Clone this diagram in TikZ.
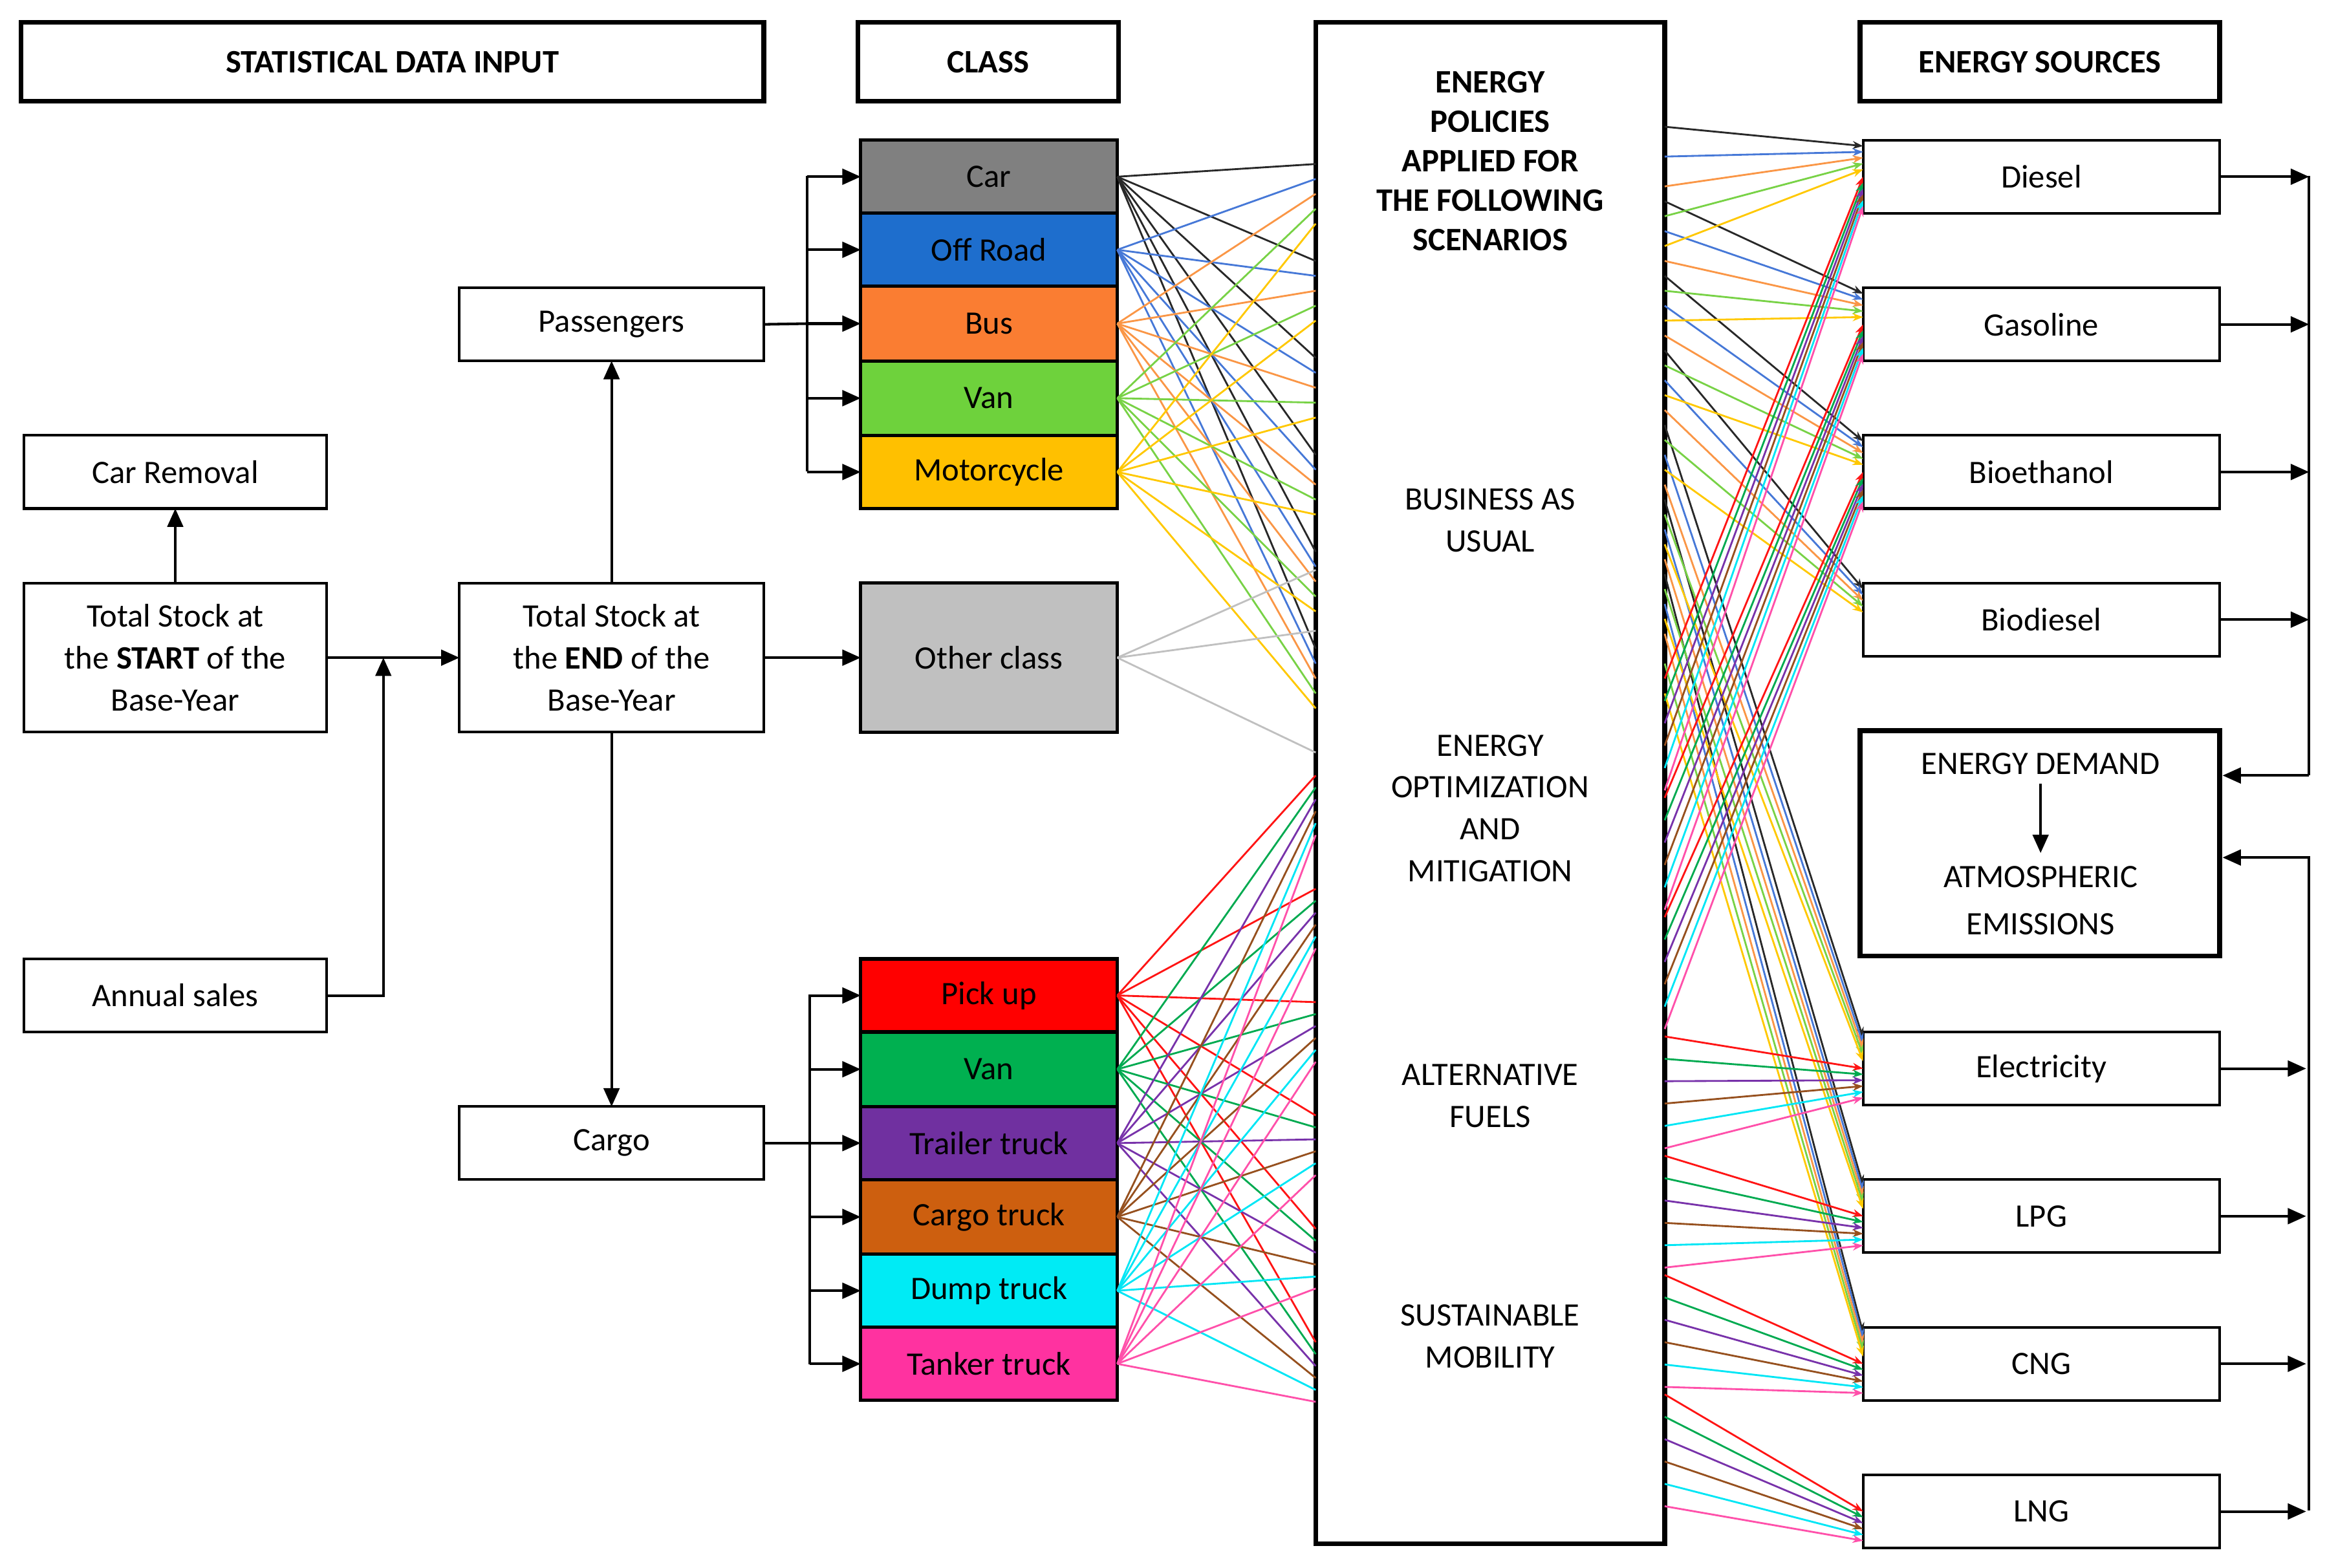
\documentclass[tikz,border=0pt]{standalone}
\usepackage{fontspec}
\setmainfont{Carlito}
\usetikzlibrary{calc,arrows.meta}
\definecolor{pc0}{RGB}{40,40,40}\definecolor{pc1}{RGB}{70,120,215}\definecolor{pc2}{RGB}{250,150,70}
\definecolor{pc3}{RGB}{120,210,70}\definecolor{pc4}{RGB}{255,200,0}
\definecolor{cc0}{RGB}{255,20,20}\definecolor{cc1}{RGB}{0,170,80}\definecolor{cc2}{RGB}{120,50,170}
\definecolor{cc3}{RGB}{150,80,30}\definecolor{cc4}{RGB}{0,230,245}\definecolor{cc5}{RGB}{255,80,170}
\newcommand{\bx}[7]{\node[#6,minimum width={#4*0.02cm-#2*0.02cm},minimum height={#5*0.02cm-#3*0.02cm}] (#1) at ({(#2+#4)/2},{(#3+#5)/2}) {#7};}
\begin{document}
\begin{tikzpicture}[x=0.02cm,y=-0.02cm,font=\fontsize{12.5}{15}\selectfont,
 b/.style={draw,line width=1pt,inner sep=0,outer sep=0,align=center,fill=white},
 tb/.style={b,line width=1.8pt,font=\fontsize{12.5}{15}\selectfont\bfseries},
 cl/.style={b,line width=1.3pt},
 a/.style={line width=1pt,-{Triangle[length=7pt,width=6pt]}},
 ln/.style={line width=0.7pt},
 sa/.style={line width=0.7pt,-{Stealth[length=4pt,width=3pt]}}]
\useasboundingbox (0,0) rectangle (1560,1051);
% headers
\bx{sdi}{14}{15}{512}{68}{tb}{STATISTICAL DATA INPUT}
\bx{cls}{575}{15}{750}{68}{tb}{CLASS}
\bx{esrc}{1247}{15}{1488}{68}{tb}{ENERGY SOURCES}
\bx{pol}{882}{15}{1116}{1035}{b,line width=1.8pt}{}
\node[font=\fontsize{12.5}{16}\selectfont\bfseries,align=center] (t1) at (999,108) {ENERGY\\[-1pt]POLICIES\\[-1pt]APPLIED FOR\\[-1pt]THE FOLLOWING\\[-1pt]SCENARIOS};
\node[align=center] (t2) at (999,349) {BUSINESS AS\\[1pt]USUAL};
\node[align=center] (t3) at (999,542) {ENERGY\\[1pt]OPTIMIZATION\\[1pt]AND\\[1pt]MITIGATION};
\node[align=center] (t4) at (999,735) {ALTERNATIVE\\[1pt]FUELS};
\node[align=center] (t5) at (999,896) {SUSTAINABLE\\[1pt]MOBILITY};
% left
\bx{rem}{16}{292}{219}{341}{b}{Car Removal}
\bx{start}{16}{391}{219}{491}{b}{Total Stock at\\[1pt]the \textbf{START} of the\\[1pt]Base-Year}
\bx{sales}{16}{643}{219}{692}{b}{Annual sales}
\bx{pas}{308}{193}{512}{242}{b}{Passengers}
\bx{end}{308}{391}{512}{491}{b}{Total Stock at\\[1pt]the \textbf{END} of the\\[1pt]Base-Year}
\bx{cargo}{308}{742}{512}{791}{b}{Cargo}
% classes
\definecolor{k1}{RGB}{128,128,128}\definecolor{k2}{RGB}{30,110,205}\definecolor{k3}{RGB}{250,125,50}
\definecolor{k4}{RGB}{110,210,60}\definecolor{k5}{RGB}{255,192,0}\definecolor{k6}{RGB}{192,192,192}
\definecolor{m1}{RGB}{255,0,0}\definecolor{m2}{RGB}{0,176,80}\definecolor{m3}{RGB}{112,48,160}
\definecolor{m4}{RGB}{205,95,15}\definecolor{m5}{RGB}{0,235,245}\definecolor{m6}{RGB}{255,50,160}
\bx{car}{577}{94}{749}{143}{cl,fill=k1}{Car}
\bx{off}{577}{143}{749}{192}{cl,fill=k2}{Off Road}
\bx{bus}{577}{192}{749}{242}{cl,fill=k3}{Bus}
\bx{van}{577}{242}{749}{292}{cl,fill=k4}{Van}
\bx{moto}{577}{292}{749}{341}{cl,fill=k5}{Motorcycle}
\bx{oth}{577}{391}{749}{491}{cl,fill=k6}{Other class}
\bx{pick}{577}{643}{749}{692}{cl,fill=m1}{Pick up}
\bx{cvan}{577}{692}{749}{742}{cl,fill=m2}{Van}
\bx{trl}{577}{742}{749}{791}{cl,fill=m3}{Trailer truck}
\bx{ctr}{577}{791}{749}{841}{cl,fill=m4}{Cargo truck}
\bx{dmp}{577}{841}{749}{890}{cl,fill=m5}{Dump truck}
\bx{tnk}{577}{890}{749}{939}{cl,fill=m6}{Tanker truck}
% sources
\bx{dsl}{1249}{94}{1488}{143}{b}{Diesel}
\bx{gas}{1249}{193}{1488}{242}{b}{Gasoline}
\bx{bioe}{1249}{292}{1488}{341}{b}{Bioethanol}
\bx{biod}{1249}{391}{1488}{440}{b}{Biodiesel}
\bx{elec}{1249}{692}{1488}{741}{b}{Electricity}
\bx{lpg}{1249}{791}{1488}{840}{b}{LPG}
\bx{cng}{1249}{890}{1488}{939}{b}{CNG}
\bx{lng}{1249}{989}{1488}{1038}{b}{LNG}
\bx{dem}{1247}{490}{1488}{641}{b,line width=1.8pt}{}
\node (d1) at (1368,512) {ENERGY DEMAND};
\node[align=center] (d2) at (1368,604) {ATMOSPHERIC\\[3pt]EMISSIONS};
\draw[a] (d1.south) -- (1368,572);
% colored fans left
\foreach \k/\n/\c in {0/car/pc0,1/off/pc1,2/bus/pc2,3/van/pc3,4/moto/pc4}
 \foreach \j in {0,...,5}
  \draw[ln,\c] (\n.east) -- ($(pol.north west)!{(95+10*\k+65*\j)/1020}!(pol.south west)$);
\foreach \t in {0.36,0.40,0.48}
 \draw[ln,k6] (oth.east) -- ($(pol.north west)!\t!(pol.south west)$);
\foreach \k/\n/\c in {0/pick/cc0,1/cvan/cc1,2/trl/cc2,3/ctr/cc3,4/dmp/cc4,5/tnk/cc5}
 \foreach \j in {0,...,5}
  \draw[ln,\c] (\n.east) -- ($(pol.north west)!{(505+8*\k+76*\j)/1020}!(pol.south west)$);
% colored fans right
\foreach \k/\c in {0/pc0,1/pc1,2/pc2,3/pc3,4/pc4}
 \foreach \s/\f in {dsl/0,gas/1,bioe/2,biod/3,elec/4,lpg/5,cng/6}
  \draw[sa,\c] ($(pol.north east)!{(70+20*\k+50*\f)/1020}!(pol.south east)$) -- ($(\s.north west)!{0.08+0.08*\k}!(\s.south west)$);
\foreach \k/\c in {0/cc0,1/cc1,2/cc2,3/cc3,4/cc4,5/cc5}
 \foreach \s/\f in {dsl/0,gas/1,bioe/2,elec/3,lpg/4,cng/5,lng/6}
  \draw[sa,\c] ($(pol.north east)!{(440+15*\k+80*\f)/1020}!(pol.south east)$) -- ($(\s.north west)!{0.5+0.08*\k}!(\s.south west)$);
% left structure arrows
\draw[a] (start.north) -- (rem.south);
\draw[a] (start.east) -- (end.west);
\coordinate (sj) at (257,441);
\draw[a] (sales.east) -| (sj);
\draw[a] (end.north -| pas.south) -- (pas.south);
\draw[a] (end.south) -- (cargo.north);
\draw[a] (end.east) -- (oth.west);
\coordinate (pb) at (541,217);
\draw[line width=1pt] (pas.east) -- (pb);
\draw[line width=1pt] (541,118) -- (541,316);
\foreach \n in {car,off,bus,van,moto} \draw[a] (541,0 |- \n.west) -- (\n.west);
\draw[line width=1pt] (543,667) -- (543,915);
\foreach \n in {pick,cvan,trl,ctr,dmp,tnk} \draw[a] (543,0 |- \n.west) -- (\n.west);
\draw[line width=1pt] (cargo.east) -- (543,0 |- cargo.east);
% right bus
\foreach \s in {dsl,gas,bioe,biod} \draw[a] (\s.east) -- (1548,0 |- \s.east);
\foreach \s in {elec,lpg,cng,lng} \draw[a] (\s.east) -- (1546,0 |- \s.east);
\coordinate (rt) at (1548,118);
\coordinate (rd) at (1548,520);
\draw[line width=1pt] (rt) -- (rd);
\draw[a] (rd) -- (1490,520);
\coordinate (rb) at (1548,1013);
\draw[a] (rb) -- (1548,575) -- (1490,575);
\end{tikzpicture}
\end{document}
